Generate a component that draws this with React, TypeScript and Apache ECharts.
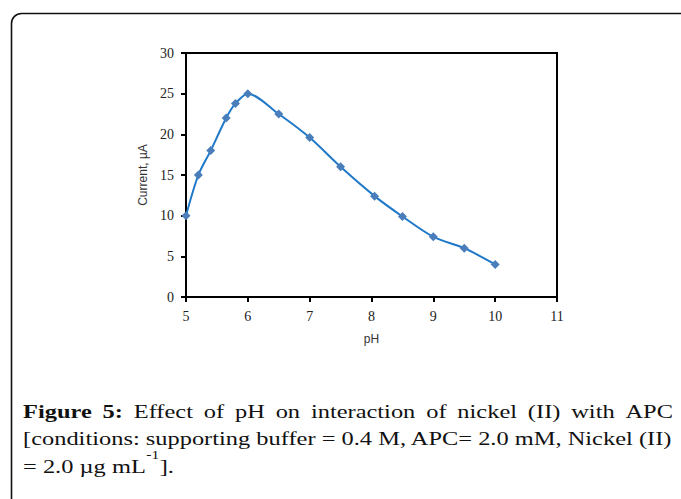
import React, { useEffect, useRef } from 'react';
import * as echarts from 'echarts';

const phValues = [5, 5.2, 5.4, 5.65, 5.8, 6, 6.5, 7, 7.5, 8.05, 8.5, 9, 9.5, 10];
const currentValues = [10, 15, 18, 22, 23.8, 25, 22.5, 19.6, 16, 12.4, 9.9, 7.4, 6, 4];
const xRange = [5, 11];
const yRange = [0, 30];
const xStep = 1;
const yStep = 5;
const xAxisTitle = 'pH';
const yAxisTitle = 'Current, µA';
const captionLine1Bold = ['Figure', '5:'];
const captionLine1 = 'Effect of pH on interaction of nickel (II) with APC';
const captionLine2 = '[conditions: supporting buffer = 0.4 M, APC= 2.0 mM, Nickel (II)';
const captionLine3 = ['= 2.0 µg mL', '-1', '].'];

const CAP_FONT = '"Liberation Serif", "Times New Roman", serif';
const CAP_SIZE = 19;

function measure(text: string, weight: string, size: number) {
  const c = document.createElement('canvas').getContext('2d')!;
  c.font = `${weight} ${size}px ${CAP_FONT}`;
  return c.measureText(text).width;
}

function textEl(text: string, x: number, y: number, sx: number, size: number, bold = false) {
  return {
    type: 'text',
    x,
    y,
    scaleX: sx,
    silent: true,
    style: {
      text,
      fontFamily: CAP_FONT,
      fontSize: size,
      fontWeight: bold ? 'bold' : 'normal',
      fill: '#111',
      textBaseline: 'alphabetic',
    },
  };
}

function justifiedLine(words: { t: string; bold: boolean }[], x0: number, x1: number, y: number, sx: number) {
  const widths = words.map((w) => measure(w.t, w.bold ? 'bold' : 'normal', CAP_SIZE) * sx);
  const total = widths.reduce((a, b) => a + b, 0);
  const gap = (x1 - x0 - total) / (words.length - 1);
  let x = x0;
  return words.map((w, i) => {
    const el = textEl(w.t, x, y, sx, CAP_SIZE, w.bold);
    x += widths[i] + gap;
    return el;
  });
}

export default function App() {
  const ref = useRef<HTMLDivElement>(null);
  useEffect(() => {
    const chart = echarts.init(ref.current!, undefined, { renderer: 'svg' });
    const x0 = 23;
    const x1 = 673;
    const sx = (x1 - x0) / measure(captionLine2, 'normal', CAP_SIZE);
    const line1Words = [
      ...captionLine1Bold.map((t) => ({ t, bold: true })),
      ...captionLine1.split(' ').map((t) => ({ t, bold: false })),
    ];
    const w3a = measure(captionLine3[0], 'normal', CAP_SIZE) * sx;
    const w3b = measure(captionLine3[1], 'normal', 12) * sx;
    const graphics: any[] = [
      {
        type: 'rect',
        silent: true,
        shape: { x: 11.5, y: 13.5, width: 720, height: 520, r: 10 },
        style: { fill: 'none', stroke: '#111', lineWidth: 1.6 },
      },
      ...justifiedLine(line1Words, x0, x1, 402, sx),
      textEl(captionLine2, x0, 429.5, sx, CAP_SIZE),
      textEl(captionLine3[0], x0, 457, sx, CAP_SIZE),
      textEl(captionLine3[1], x0 + w3a + 0.5, 449, sx, 12),
      textEl(captionLine3[2], x0 + w3a + w3b + 1, 457, sx, CAP_SIZE),
    ];
    const axisLabelStyle = {
      fontFamily: '"Liberation Serif", "Times New Roman", serif',
      fontSize: 14,
      color: '#222',
    };
    chart.setOption({
      animation: false,
      backgroundColor: '#fff',
      grid: {
        left: 186,
        top: 53,
        right: 681 - 557,
        bottom: 499 - 297,
        show: true,
        borderColor: '#000',
        borderWidth: 2,
        backgroundColor: 'transparent',
      },
      xAxis: {
        type: 'value',
        min: xRange[0],
        max: xRange[1],
        interval: xStep,
        name: xAxisTitle,
        nameLocation: 'middle',
        nameGap: 36,
        nameTextStyle: { fontFamily: '"Liberation Sans", Arial, sans-serif', fontSize: 12, color: '#333' },
        axisLine: { show: true, lineStyle: { color: '#000', width: 2 } },
        axisTick: { show: true, inside: false, length: 5, lineStyle: { color: '#000', width: 2 } },
        axisLabel: { ...axisLabelStyle, margin: 12 },
        splitLine: { show: false },
      },
      yAxis: {
        type: 'value',
        min: yRange[0],
        max: yRange[1],
        interval: yStep,
        name: yAxisTitle,
        nameLocation: 'middle',
        nameGap: 28,
        nameRotate: 90,
        nameTextStyle: { fontFamily: '"Liberation Sans", Arial, sans-serif', fontSize: 12, color: '#333' },
        axisLine: { show: true, lineStyle: { color: '#000', width: 2 } },
        axisTick: { show: true, inside: false, length: 5, lineStyle: { color: '#000', width: 2 } },
        axisLabel: { ...axisLabelStyle, margin: 12 },
        splitLine: { show: false },
      },
      series: [
        {
          type: 'line',
          data: phValues.map((x, i) => [x, currentValues[i]]),
          smooth: 0.3,
          symbol: 'diamond',
          symbolSize: 9,
          showSymbol: true,
          lineStyle: { color: '#1f78c8', width: 2 },
          itemStyle: { color: '#4a7ebb' },
          z: 3,
        },
      ],
      graphic: graphics,
    });
    return () => chart.dispose();
  }, []);
  return (
    <div
      ref={ref}
      style={{ position: 'fixed', left: 0, top: 0, width: 681, height: 499, background: '#fff' }}
    />
  );
}
